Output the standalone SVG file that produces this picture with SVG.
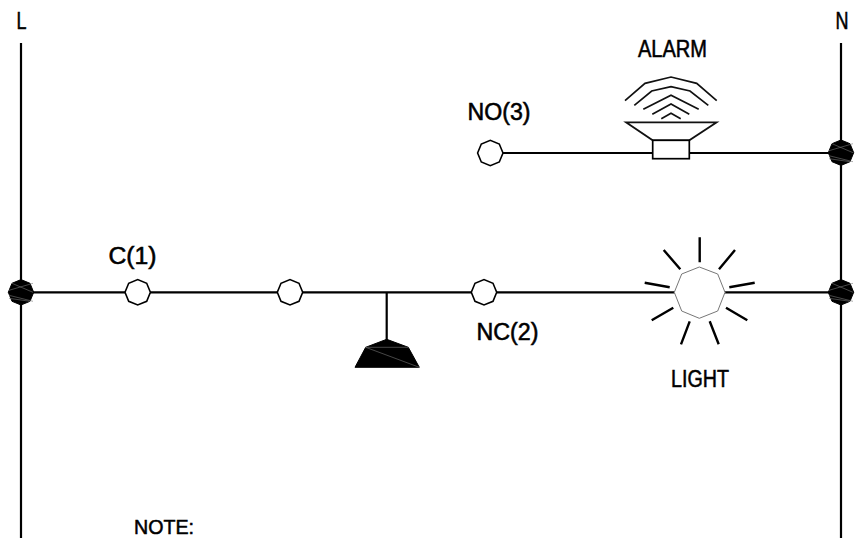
<svg xmlns="http://www.w3.org/2000/svg" width="856" height="538" viewBox="0 0 856 538">
<style>
.w{fill:none;stroke:#000;stroke-width:2.2}
.t{fill:none;stroke:#111;stroke-width:1.7;stroke-linejoin:miter}
.ray{stroke:#000;stroke-width:2.4;fill:none}
.o{fill:#fff;stroke:#000;stroke-width:1.6}
.b{fill:#000;stroke:#000;stroke-width:1}
.g{fill:none;stroke:#777;stroke-width:.6}
text{font-family:"Liberation Sans",Arial,sans-serif;font-size:23px;fill:#000;stroke:#000;stroke-width:.55}
</style>
<defs>
<polygon id="oct" points="12.7,0 9,-9 0,-12.7 -9,-9 -12.7,0 -9,9 0,12.7 9,9"/>
<g id="dot">
<polygon class="b" points="12.7,0 9,-9 0,-12.7 -9,-9 -12.7,0 -9,9 0,12.7 9,9"/>
<path class="g" d="M-12,-2 L12,-9 M-12,3 L12,9 M-9,-9 L12,0 M-12,6 L9,9"/>
</g>
</defs>
<g id="connectors">
<path class="w" d="M21 43V538M841 43V538M21 292.300H675M723 292.300H841M500 153H653M689 153H841M386.700 292.300V340"/>
</g>
<g id="node-L"><text x="16.500" y="29" textLength="10" lengthAdjust="spacingAndGlyphs">L</text></g>
<g id="node-N"><text x="835.500" y="29" textLength="13" lengthAdjust="spacingAndGlyphs">N</text></g>
<g id="junction-left"><use href="#dot" x="21" y="292.300"/></g>
<g id="junction-right-top"><use href="#dot" x="841" y="152.700"/></g>
<g id="junction-right-bottom"><use href="#dot" x="841" y="292.300"/></g>
<g id="contact-c"><use href="#oct" class="o" x="137.700" y="292.300"/><text x="108.500" y="264" textLength="48" lengthAdjust="spacingAndGlyphs">C(1)</text></g>
<g id="contact-mid"><use href="#oct" class="o" x="290" y="292.300"/></g>
<g id="contact-nc"><use href="#oct" class="o" x="484" y="292.300"/><text x="476.500" y="340" textLength="62" lengthAdjust="spacingAndGlyphs">NC(2)</text></g>
<g id="contact-no"><use href="#oct" class="o" x="490.300" y="153"/><text x="467.500" y="119.500" textLength="63" lengthAdjust="spacingAndGlyphs">NO(3)</text></g>
<g id="bell">
<polygon class="b" points="386.700,339.300 408.300,347.300 419.300,367.300 355,367.300 365.700,347.300"/>
<path class="g" d="M365.700 347.300H408.300M365.700 347.300L419.300 367.300"/>
</g>
<g id="alarm">
<path class="t" d="M625 100.700L645 83.300L671 77L696.700 83.300L716.700 100.700"/>
<path class="t" d="M634.300 105.300L651.700 91L671 86.700L690 91L708.300 105.300"/>
<path class="t" d="M643.300 109.300L671 95.300L698.700 109.300"/>
<path class="t" d="M652.300 114.300L671 104L689.300 114.300"/>
<path class="t" d="M661.300 118.700L671 113.300L680.700 118.700"/>
<polygon class="t" points="626,122.300 716.700,122.300 689.300,140.300 652.700,140.300"/>
<rect x="652.700" y="140.300" width="36.600" height="18.400" fill="#fff" stroke="#000" stroke-width="1.7"/>
<text x="638" y="57" textLength="69" lengthAdjust="spacingAndGlyphs">ALARM</text>
</g>
<g id="light">
<polygon fill="#fff" stroke="#777" stroke-width="1" points="699.300,267 717.700,274 725,292.300 717.700,311 699.300,318.300 681.700,311 674.300,292.300 681.700,274"/>
<path class="ray" d="M699.700 237.300V262.300M735 250L719 269.300M754.700 282.700L729.300 287.300M747.300 320.300L726 307.700M718.700 344.300L709.700 321.300M681 344.300L689.700 321.300M651.700 320.300L673.300 307.700M644.700 282.700L669.700 287.300M663.700 250L680.300 269.300"/>
<text x="671" y="386.500" textLength="58" lengthAdjust="spacingAndGlyphs">LIGHT</text>
</g>
<g id="note"><text x="134" y="533.500" style="font-size:21px" textLength="60" lengthAdjust="spacingAndGlyphs">NOTE:</text></g>
</svg>
